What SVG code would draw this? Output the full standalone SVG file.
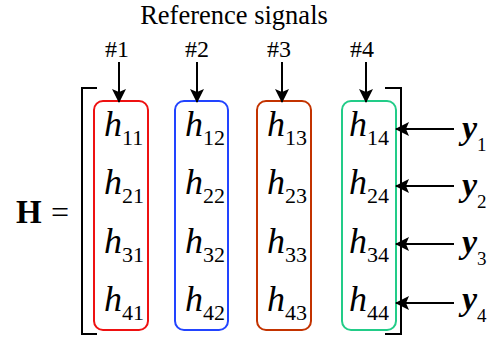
<svg xmlns="http://www.w3.org/2000/svg" width="494" height="338" viewBox="0 0 494 338">
  <style>
    text, tspan { font-family: "Liberation Serif", "Times New Roman", serif; fill: #000; }
    .lbl { font-size: 24px; text-anchor: middle; }
    .h { font-size: 36px; font-style: italic; }
    .sub { font-size: 22px; font-style: normal; }
    .y { font-size: 34px; font-style: italic; font-weight: bold; }
    .ysub { font-size: 19px; font-style: normal; font-weight: normal; }
    .col { fill: none; stroke-width: 2; }
    .wire { stroke: #000; stroke-width: 2; fill: none; }
    .bracket { stroke: #000; stroke-width: 2; fill: none; }
  </style>
  <defs>
    <marker id="head" viewBox="0 0 14 14" markerWidth="14" markerHeight="14" refX="13" refY="7" orient="auto" markerUnits="userSpaceOnUse">
      <path d="M0,0 L14,7 L0,14 L3,7 z" fill="#000"/>
    </marker>
  </defs>

  <rect width="494" height="338" fill="#fff"/>

  <text x="234" y="24" font-size="26.5" text-anchor="middle">Reference signals</text>

  <!-- H = [ ... ] -->
  <g id="lhs">
    <text x="16" y="223" font-size="33" font-weight="bold">H</text>
    <text x="51" y="223" font-size="32">=</text>
  </g>
  <g id="matrix-bracket">
    <path class="bracket" d="M97,88 H82 V334 H97"/>
    <path class="bracket" d="M385,88 H401 V334 H385"/>
  </g>

  <!-- column 1 -->
  <g id="col1">
    <rect class="col" x="94" y="101" width="54" height="229" rx="9" stroke="#ee1111"/>
    <text class="h" x="104" y="136">h<tspan class="sub" x="122" y="145">11</tspan></text>
    <text class="h" x="104" y="194">h<tspan class="sub" x="122" y="203">21</tspan></text>
    <text class="h" x="104" y="253">h<tspan class="sub" x="122" y="262">31</tspan></text>
    <text class="h" x="104" y="311">h<tspan class="sub" x="122" y="320">41</tspan></text>
    <text class="lbl" x="117" y="57">#1</text>
  </g>

  <!-- column 2 -->
  <g id="col2">
    <rect class="col" x="175" y="101" width="53" height="229" rx="9" stroke="#2244ff"/>
    <text class="h" x="185" y="136">h<tspan class="sub" x="203" y="145">12</tspan></text>
    <text class="h" x="185" y="194">h<tspan class="sub" x="203" y="203">22</tspan></text>
    <text class="h" x="185" y="253">h<tspan class="sub" x="203" y="262">32</tspan></text>
    <text class="h" x="185" y="311">h<tspan class="sub" x="203" y="320">42</tspan></text>
    <text class="lbl" x="197" y="57">#2</text>
  </g>

  <!-- column 3 -->
  <g id="col3">
    <rect class="col" x="257" y="101" width="54" height="229" rx="9" stroke="#c33300"/>
    <text class="h" x="267" y="136">h<tspan class="sub" x="285" y="145">13</tspan></text>
    <text class="h" x="267" y="194">h<tspan class="sub" x="285" y="203">23</tspan></text>
    <text class="h" x="267" y="253">h<tspan class="sub" x="285" y="262">33</tspan></text>
    <text class="h" x="267" y="311">h<tspan class="sub" x="285" y="320">43</tspan></text>
    <text class="lbl" x="279" y="57">#3</text>
  </g>

  <!-- column 4 -->
  <g id="col4">
    <rect class="col" x="342" y="101" width="54" height="229" rx="9" stroke="#22cc88"/>
    <text class="h" x="349" y="136">h<tspan class="sub" x="367" y="145">14</tspan></text>
    <text class="h" x="349" y="194">h<tspan class="sub" x="367" y="203">24</tspan></text>
    <text class="h" x="349" y="253">h<tspan class="sub" x="367" y="262">34</tspan></text>
    <text class="h" x="349" y="311">h<tspan class="sub" x="367" y="320">44</tspan></text>
    <text class="lbl" x="362" y="57">#4</text>
  </g>

  <!-- received signals -->
  <g id="outputs">
    <text class="y" x="462" y="139">y<tspan class="ysub" x="477" y="151">1</tspan></text>
    <text class="y" x="462" y="196">y<tspan class="ysub" x="477" y="208">2</tspan></text>
    <text class="y" x="462" y="253">y<tspan class="ysub" x="477" y="265">3</tspan></text>
    <text class="y" x="462" y="310">y<tspan class="ysub" x="477" y="322">4</tspan></text>
  </g>

  <!-- connectors -->
  <g id="connectors">
    <line class="wire" x1="119" y1="62" x2="119" y2="102" marker-end="url(#head)"/>
    <line class="wire" x1="197" y1="62" x2="197" y2="102" marker-end="url(#head)"/>
    <line class="wire" x1="282" y1="62" x2="282" y2="102" marker-end="url(#head)"/>
    <line class="wire" x1="366" y1="62" x2="366" y2="102" marker-end="url(#head)"/>
    <line class="wire" x1="454" y1="129" x2="396" y2="129" marker-end="url(#head)"/>
    <line class="wire" x1="454" y1="186" x2="396" y2="186" marker-end="url(#head)"/>
    <line class="wire" x1="454" y1="244" x2="396" y2="244" marker-end="url(#head)"/>
    <line class="wire" x1="454" y1="303" x2="396" y2="303" marker-end="url(#head)"/>
  </g>
</svg>
